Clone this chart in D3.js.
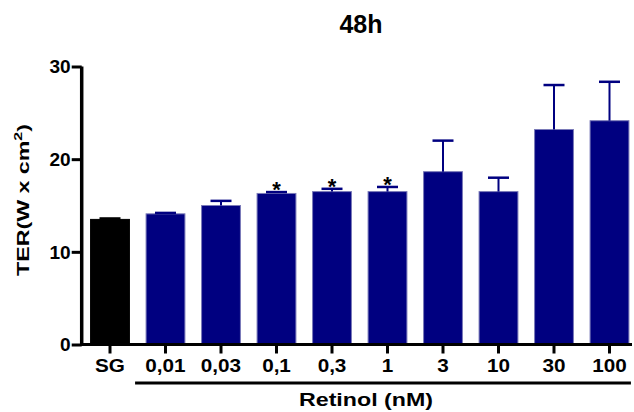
<!DOCTYPE html>
<html>
<head>
<meta charset="utf-8">
<script src="https://cdn.jsdelivr.net/npm/d3@7"></script>
<style>
  html, body { margin: 0; padding: 0; background: #fff; }
  text { font-family: "Liberation Sans", Arial, sans-serif; font-weight: bold; }
</style>
</head>
<body>
<svg id="chart" width="634" height="412"></svg>
<script>
const categories = ["SG", "0,01", "0,03", "0,1", "0,3", "1", "3", "10", "30", "100"];
const means = [13.5, 14.1, 15.0, 16.3, 16.5, 16.5, 18.65, 16.5, 23.2, 24.15];
const errors = [0.1, 0.1, 0.5, 0.15, 0.3, 0.5, 3.35, 1.5, 4.8, 4.2];
const significant = [false, false, false, true, true, true, false, false, false, false];
const yTicks = [0, 10, 20, 30];
const title = "48h";
const xTitle = "Retinol (nM)";

const svg = d3.select("#chart");
const navy = "#000080";

const x = d3.scaleBand().domain(categories).range([82.25, 637.25]).paddingInner(0.3).paddingOuter(0.15);
const y = d3.scaleLinear().domain([0, 30]).range([344.5, 66.5]);

// bars
svg.append("g").selectAll("rect").data(categories).join("rect")
  .attr("x", d => x(d))
  .attr("y", (d, i) => y(means[i]))
  .attr("width", x.bandwidth())
  .attr("height", (d, i) => y(0) - y(means[i]))
  .attr("fill", (d, i) => i === 0 ? "#000" : navy)
  .attr("stroke", (d, i) => i === 0 ? "#000" : "#7a7ab8")
  .attr("stroke-width", 1);

// error bars
categories.forEach((c, i) => {
  const cx = x(c) + x.bandwidth() / 2;
  const col = i === 0 ? "#000" : navy;
  if (errors[i] > 0.2) {
    svg.append("line").attr("x1", cx).attr("x2", cx)
      .attr("y1", y(means[i])).attr("y2", y(means[i] + errors[i]))
      .attr("stroke", col).attr("stroke-width", 2);
  }
  svg.append("line").attr("x1", cx - 10.5).attr("x2", cx + 10.5)
    .attr("y1", y(means[i] + errors[i])).attr("y2", y(means[i] + errors[i]))
    .attr("stroke", col).attr("stroke-width", 2.5);
  if (significant[i]) {
    svg.append("text").attr("x", cx).attr("y", y(means[i] + errors[i]) + 5)
      .attr("text-anchor", "middle").attr("font-size", 22).attr("fill", "#000").text("*");
  }
});

// y axis
const yAxis = svg.append("g").attr("transform", "translate(81.7,0)")
  .call(d3.axisLeft(y).tickValues(yTicks).tickSize(10).tickPadding(1).tickFormat(d3.format("d")));
yAxis.select(".domain").attr("d", `M0,${y(30)}V${y(0)}`).attr("stroke", "#000").attr("stroke-width", 3.5);
yAxis.selectAll(".tick line").attr("stroke", "#000").attr("stroke-width", 3);
yAxis.selectAll(".tick text").attr("font-size", 18).attr("fill", "#000").attr("dy", "0.36em")
  .attr("transform", "translate(-11,0) scale(1.06,1) translate(11,0)")
  .attr("font-family", "Liberation Sans, Arial, sans-serif").attr("font-weight", "bold");

// x axis
const xAxis = svg.append("g").attr("transform", `translate(0,${y(0)})`)
  .call(d3.axisBottom(x).tickSize(9).tickPadding(5));
xAxis.select(".domain").attr("d", `M80,0H632`).attr("stroke", "#000").attr("stroke-width", 3);
xAxis.selectAll(".tick line").attr("stroke", "#000").attr("stroke-width", 3);
xAxis.selectAll(".tick text").attr("font-size", 18).attr("fill", "#000").attr("dy", "0")
  .attr("y", 27.5).attr("transform", "scale(1.15,1)")
  .attr("font-family", "Liberation Sans, Arial, sans-serif").attr("font-weight", "bold");

// group line for retinol
svg.append("line")
  .attr("x1", x(categories[1]) - 11).attr("x2", x(categories[categories.length - 1]) + x.bandwidth() + 2)
  .attr("y1", 383).attr("y2", 383).attr("stroke", "#000").attr("stroke-width", 3);

svg.append("text").attr("x", 366).attr("y", 406).attr("text-anchor", "middle")
  .attr("font-size", 19).attr("fill", "#000")
  .attr("textLength", 134).attr("lengthAdjust", "spacingAndGlyphs").text(xTitle);

// title
svg.append("text").attr("x", 361).attr("y", 33).attr("text-anchor", "middle")
  .attr("font-size", 25).attr("fill", "#000").text(title);

// y title
const yt = svg.append("text").attr("transform", "translate(29,200) rotate(-90)")
  .attr("text-anchor", "middle").attr("font-size", 16).attr("fill", "#000")
  .attr("textLength", 152).attr("lengthAdjust", "spacingAndGlyphs");
yt.append("tspan").text("TER(W  x  cm");
yt.append("tspan").attr("font-size", 11).attr("dy", -7).text("2");
yt.append("tspan").attr("dy", 7).text(")");
</script>
</body>
</html>
